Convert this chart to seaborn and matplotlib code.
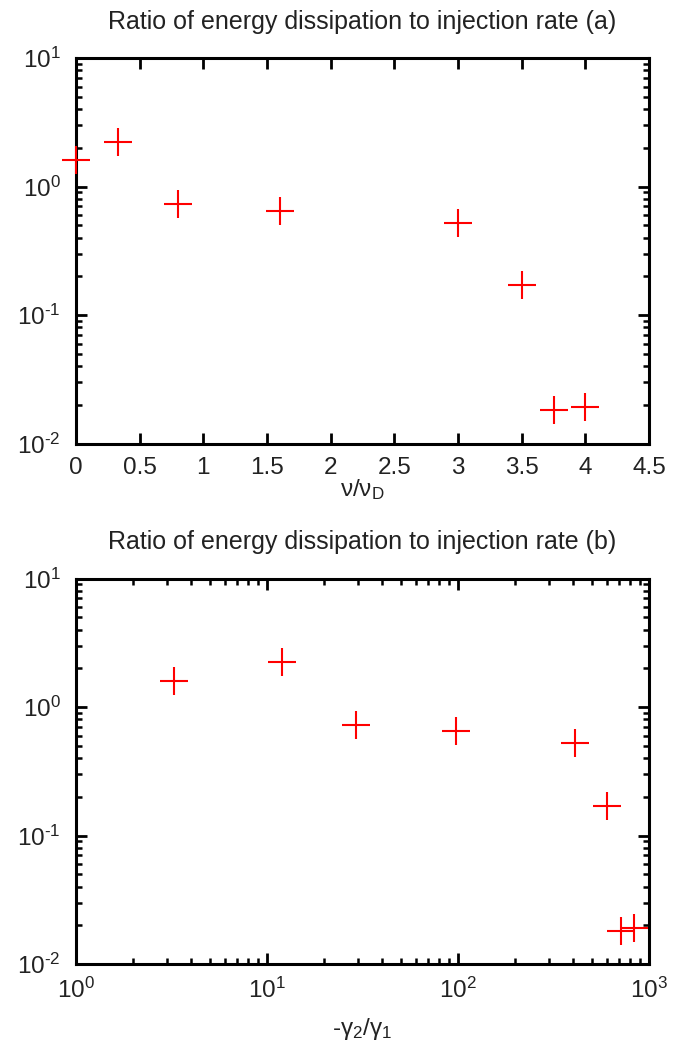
import math
import matplotlib
matplotlib.use("Agg")
import matplotlib.pyplot as plt
import matplotlib.ticker as mticker
import seaborn as sns
import pandas as pd

# Measured ratio of energy dissipation to injection rate
nu_ratio = [0.0, 0.33, 0.80, 1.60, 3.00, 3.50, 3.75, 4.00]
gamma_ratio = [3.26, 12.0, 29.2, 98.0, 410.0, 600.0, 710.0, 830.0]
diss_ratio = [1.60, 2.23, 0.73, 0.645, 0.523, 0.170, 0.0182, 0.0191]

x_ticks_a = [0, 0.5, 1, 1.5, 2, 2.5, 3, 3.5, 4, 4.5]
x_tick_labels_a = ["0", "0.5", "1", "1.5", "2", "2.5", "3", "3.5", "4", "4.5"]

df = pd.DataFrame({"nu": nu_ratio, "gamma": gamma_ratio, "ratio": diss_ratio})

sns.set_style("ticks")
plt.rcParams["font.family"] = ["Liberation Sans", "DejaVu Sans"]
plt.rcParams["mathtext.fontset"] = "custom"
plt.rcParams["mathtext.rm"] = "Liberation Sans"
plt.rcParams["mathtext.it"] = "Liberation Sans"
plt.rcParams["mathtext.default"] = "regular"

W, H = 684, 1046
fig = plt.figure(figsize=(W / 100, H / 100), dpi=100)
left, right = 76, 649
ax_a = fig.add_axes([left / W, (H - 443.5) / H, (right - left) / W, 385.5 / H])
ax_b = fig.add_axes([left / W, (H - 964) / H, (right - left) / W, 385.5 / H])

fs_tick = 17.5
fs_title = 18
txt = "#222222"
title = "Ratio of energy dissipation to injection rate"


def power_label(v, pos):
    exp = int(round(math.log10(v)))
    if exp < 0:
        return "$\\mathregular{10^{\\text{-}%d}}$" % (-exp)
    return "$\\mathregular{10^{%d}}$" % exp


def style(ax):
    ax.set_yscale("log")
    ax.set_ylim(1e-2, 1e1)
    for s in ax.spines.values():
        s.set_linewidth(2.2)
        s.set_color("black")
        s.set_visible(True)
    ax.tick_params(which="both", direction="in", top=True, right=True,
                   labelsize=fs_tick, colors="black", labelcolor=txt)
    ax.tick_params(which="major", length=8, width=2.0)
    ax.tick_params(which="minor", length=4, width=1.8)
    ax.tick_params(axis="x", which="major", pad=10)
    ax.tick_params(axis="y", which="major", pad=11)
    ax.yaxis.set_major_locator(mticker.LogLocator(base=10, numticks=10))
    ax.yaxis.set_minor_locator(mticker.LogLocator(base=10, subs=range(2, 10), numticks=10))
    ax.yaxis.set_major_formatter(mticker.FuncFormatter(power_label))
    ax.yaxis.set_minor_formatter(mticker.NullFormatter())


# Panel (a): linear ν/ν_D axis
sns.scatterplot(data=df, x="nu", y="ratio", ax=ax_a, marker="+", s=380,
                color="red", linewidth=1.5, legend=False, clip_on=False, zorder=4)
style(ax_a)
ax_a.set_xlim(0, 4.5)
ax_a.set_xticks(x_ticks_a)
ax_a.set_xticklabels(x_tick_labels_a)
ax_a.set_xlabel("$\\mathregular{ν/ν_D}$", fontsize=fs_tick, color=txt, labelpad=-2)
ax_a.set_ylabel("")
ax_a.set_title(title + " (a)", fontsize=fs_title, color=txt, pad=21)

# Panel (b): logarithmic -γ2/γ1 axis
sns.scatterplot(data=df, x="gamma", y="ratio", ax=ax_b, marker="+", s=380,
                color="red", linewidth=1.5, legend=False, clip_on=False, zorder=4)
ax_b.set_xscale("log")
style(ax_b)
ax_b.set_xlim(1, 1e3)
ax_b.xaxis.set_major_locator(mticker.LogLocator(base=10, numticks=10))
ax_b.xaxis.set_minor_locator(mticker.LogLocator(base=10, subs=range(2, 10), numticks=10))
ax_b.xaxis.set_major_formatter(mticker.FuncFormatter(power_label))
ax_b.xaxis.set_minor_formatter(mticker.NullFormatter())
ax_b.set_xlabel("-$\\mathregular{γ_2/γ_1}$", fontsize=fs_tick, color=txt, labelpad=9)
ax_b.set_ylabel("")
ax_b.set_title(title + " (b)", fontsize=fs_title, color=txt, pad=21)

fig.savefig("out.png", dpi=100, facecolor="white")
